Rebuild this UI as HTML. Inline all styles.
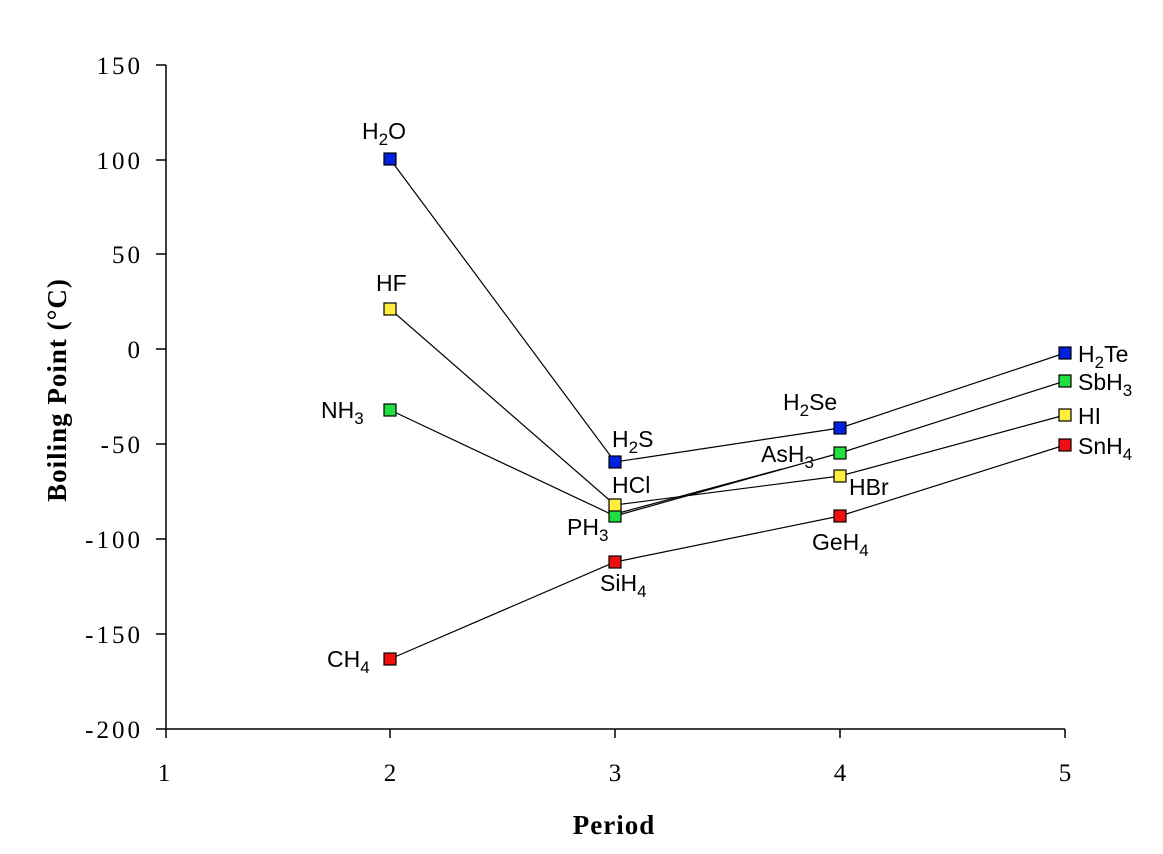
<!DOCTYPE html><html><head><style>body{margin:0;background:#fff}svg{display:block}</style></head><body>
<svg width="1163" height="854" xmlns="http://www.w3.org/2000/svg">
<g stroke="#000" stroke-width="1.5" fill="none">
<line x1="166" y1="65" x2="166" y2="738"/><line x1="156" y1="729" x2="1065" y2="729"/>
<line x1="156" y1="65" x2="166" y2="65"/><line x1="156" y1="160" x2="166" y2="160"/><line x1="156" y1="254" x2="166" y2="254"/><line x1="156" y1="349" x2="166" y2="349"/><line x1="156" y1="444" x2="166" y2="444"/><line x1="156" y1="539" x2="166" y2="539"/><line x1="156" y1="634" x2="166" y2="634"/>
<line x1="390" y1="729" x2="390" y2="738"/><line x1="615" y1="729" x2="615" y2="738"/><line x1="840" y1="729" x2="840" y2="738"/><line x1="1065" y1="729" x2="1065" y2="738"/>
</g>
<g stroke="#000" stroke-width="1.2" fill="none">
<polyline points="390,159 615,462 840,428 1065,353"/>
<polyline points="390,309 615,505 840,476 1065,415"/>
<polyline points="390,410 615,516 840,453 1065,381"/>
<polyline points="390,659 615,562 840,516 1065,445"/>
<line x1="615" y1="514" x2="782" y2="469"/>
</g>
<g stroke="#000" stroke-width="1.2">
<g fill="#0020e0"><rect x="609" y="456" width="12" height="12"/><rect x="384" y="153" width="12" height="12"/><rect x="834" y="422" width="12" height="12"/><rect x="1059" y="347" width="12" height="12"/></g>
<g fill="#20e040"><rect x="384" y="404" width="12" height="12"/><rect x="609" y="510" width="12" height="12"/><rect x="834" y="447" width="12" height="12"/><rect x="1059" y="375" width="12" height="12"/></g>
<g fill="#ffee40"><rect x="384" y="303" width="12" height="12"/><rect x="609" y="499" width="12" height="12"/><rect x="834" y="470" width="12" height="12"/><rect x="1059" y="409" width="12" height="12"/></g>
<g fill="#ee1010"><rect x="384" y="653" width="12" height="12"/><rect x="609" y="556" width="12" height="12"/><rect x="834" y="510" width="12" height="12"/><rect x="1059" y="439" width="12" height="12"/></g>
</g>
<g font-family="Liberation Serif,serif" font-size="25" text-anchor="end" letter-spacing="3">
<text x="143" y="74">150</text><text x="143" y="169">100</text><text x="143" y="263">50</text><text x="143" y="358">0</text><text x="143" y="453">-50</text><text x="143" y="548">-100</text><text x="143" y="643">-150</text><text x="143" y="738">-200</text>
</g>
<g font-family="Liberation Serif,serif" font-size="25" text-anchor="middle">
<text x="164" y="781">1</text><text x="390" y="781">2</text><text x="615" y="781">3</text><text x="840" y="781">4</text><text x="1065" y="781">5</text>
</g>
<text x="614" y="834" font-family="Liberation Serif,serif" font-weight="bold" font-size="27" letter-spacing="1" text-anchor="middle">Period</text>
<text transform="translate(66,390) rotate(-90)" font-family="Liberation Serif,serif" font-weight="bold" font-size="27" letter-spacing="1" text-anchor="middle">Boiling Point (°C)</text>
<g font-family="Liberation Sans,sans-serif" font-size="23">
<text x="362" y="139">H<tspan font-size="17" dy="6">2</tspan><tspan dy="-6">O</tspan></text>
<text x="376" y="291">HF</text>
<text x="321" y="418">NH<tspan font-size="17" dy="6">3</tspan></text>
<text x="327" y="667">CH<tspan font-size="17" dy="6">4</tspan></text>
<text x="612" y="447">H<tspan font-size="17" dy="6">2</tspan><tspan dy="-6">S</tspan></text>
<text x="612" y="493">HCl</text>
<text x="567" y="535">PH<tspan font-size="17" dy="6">3</tspan></text>
<text x="600" y="591">SiH<tspan font-size="17" dy="6">4</tspan></text>
<text x="783" y="410">H<tspan font-size="17" dy="6">2</tspan><tspan dy="-6">Se</tspan></text>
<text x="761" y="462">AsH<tspan font-size="17" dy="6">3</tspan></text>
<text x="849" y="495">HBr</text>
<text x="812" y="550">GeH<tspan font-size="17" dy="6">4</tspan></text>
<text x="1078" y="362">H<tspan font-size="17" dy="6">2</tspan><tspan dy="-6">Te</tspan></text>
<text x="1078" y="390">SbH<tspan font-size="17" dy="6">3</tspan></text>
<text x="1078" y="424">HI</text>
<text x="1078" y="454">SnH<tspan font-size="17" dy="6">4</tspan></text>
</g>
</svg>
</body></html>
